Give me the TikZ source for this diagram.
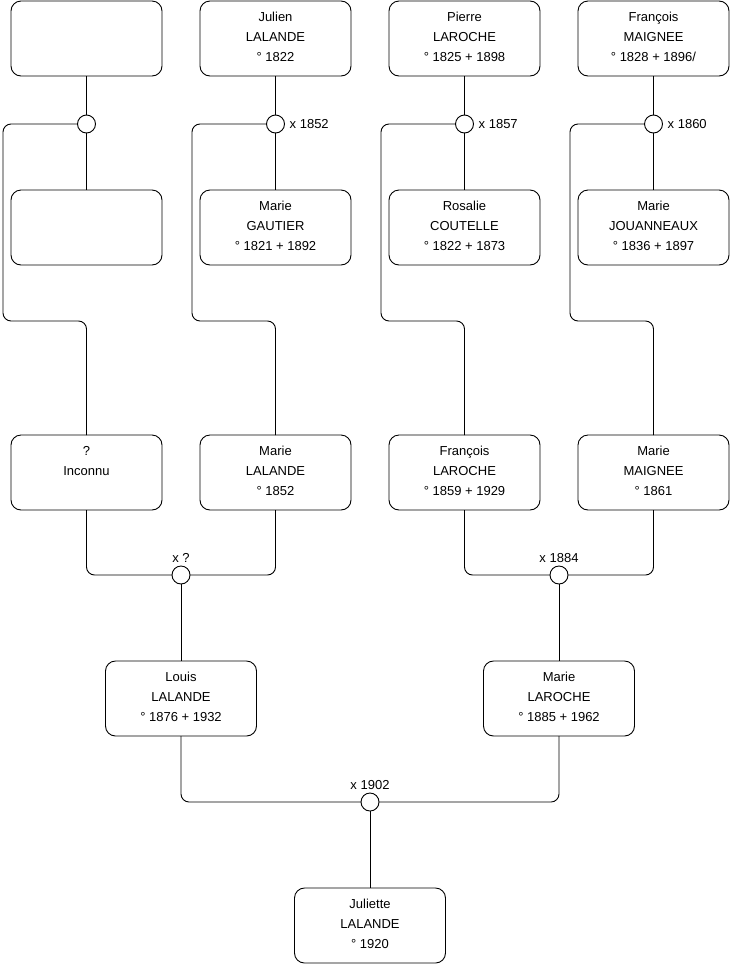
\documentclass[tikz,border=0pt]{standalone}
\usepackage{fontspec}
\setmainfont{Liberation Sans}
\usepackage{tikz}
\usetikzlibrary{positioning, calc}
\tikzset{
	pers/.style ={rectangle, rounded corners=10pt, draw=black, line width=0.9pt, minimum width=151pt, minimum height=75pt, align=center, text depth=3pt, inner sep=2pt, outer sep=0pt},
	union/.style={circle, draw=black, line width=0.9pt, fill=white, minimum size=18pt, inner sep=0pt, outer sep=0pt},
	lien/.style ={line width=0.9pt, rounded corners=8pt},
	date/.style ={inner sep=2pt},
}
\begin{document}
\begin{tikzpicture}[x=1pt, y=-1pt, font=\fontsize{13}{20}\selectfont]
	\useasboundingbox (0,0) rectangle (740,975);
	% arriere-grands-parents
	\node[pers] (f1) at (86.5,38.5) {};
	\node[pers, right=38pt of f1] (f2) {Julien\\LALANDE\\° 1822};
	\node[pers, right=38pt of f2] (f3) {Pierre\\LAROCHE\\° 1825 + 1898};
	\node[pers, right=38pt of f3] (f4) {François\\MAIGNEE\\° 1828 + 1896/};
	\node[pers, below=114pt of f1] (m1) {};
	\node[pers, below=114pt of f2] (m2) {Marie\\GAUTIER\\° 1821 + 1892};
	\node[pers, below=114pt of f3] (m3) {Rosalie\\COUTELLE\\° 1822 + 1873};
	\node[pers, below=114pt of f4] (m4) {Marie\\JOUANNEAUX\\° 1836 + 1897};
	\foreach \i in {1,...,4}
		\node[union, below=39pt of f\i] (u\i) {};
	\node[date, right=3pt of u2] {x 1852};
	\node[date, right=3pt of u3] {x 1857};
	\node[date, right=3pt of u4] {x 1860};
	% grands-parents
	\node[pers, below=170pt of m1] (g1) {?\\Inconnu\\~};
	\node[pers, below=170pt of m2] (g2) {Marie\\LALANDE\\° 1852};
	\node[pers, below=170pt of m3] (g3) {François\\LAROCHE\\° 1859 + 1929};
	\node[pers, below=170pt of m4] (g4) {Marie\\MAIGNEE\\° 1861};
	\foreach \i in {1,...,4} {
		\draw[lien] (f\i) -- (u\i);
		\draw[lien] (u\i) -- (m\i);
		\draw[lien] (u\i.west) -| ([xshift=-8pt]m\i.south west) |- ([yshift=-56pt]m\i.south) -- (g\i.north);
	}
	\node[union, below=56pt of $(g1.south)!0.5!(g2.south)$] (u5) {};
	\node[union, below=56pt of $(g3.south)!0.5!(g4.south)$] (u6) {};
	\node[date, above=1pt of u5] {x ?};
	\node[date, above=1pt of u6] {x 1884};
	\draw[lien] (g1.south) |- (u5.west);
	\draw[lien] (g2.south) |- (u5.east);
	\draw[lien] (g3.south) |- (u6.west);
	\draw[lien] (g4.south) |- (u6.east);
	% parents
	\node[pers, below=77pt of u5] (p1) {Louis\\LALANDE\\° 1876 + 1932};
	\node[pers, below=77pt of u6] (p2) {Marie\\LAROCHE\\° 1885 + 1962};
	\draw[lien] (u5) -- (p1);
	\draw[lien] (u6) -- (p2);
	\node[union, below=57pt of $(p1.south)!0.5!(p2.south)$] (u7) {};
	\node[date, above=1pt of u7] {x 1902};
	\draw[lien] (p1.south) |- (u7.west);
	\draw[lien] (p2.south) |- (u7.east);
	% enfant
	\node[pers, below=77pt of u7] (e) {Juliette\\LALANDE\\° 1920};
	\draw[lien] (u7) -- (e);
\end{tikzpicture}
\end{document}
